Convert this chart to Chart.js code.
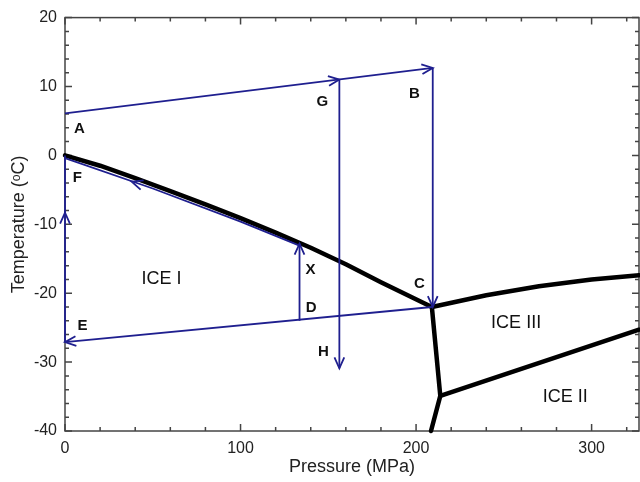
<!DOCTYPE html>
<html>
<head>
<meta charset="utf-8">
<script src="https://cdn.jsdelivr.net/npm/chart.js@4"></script>
<style>
  html, body { margin: 0; padding: 0; background: #fff; }
  #wrap { width: 640px; height: 482px; }
</style>
</head>
<body>
<div id="wrap"><canvas id="phaseChart"></canvas></div>
<script>
// axis ticks
const pressureTicks = [0, 100, 200, 300];
const tempTicks = [-40, -30, -20, -10, 0, 10, 20];

// phase boundaries (MPa, degC)
const meltIP = [0, 20, 40, 60, 80, 100, 120, 140, 160, 180, 209];
const meltIT = [0, -1.5, -3.3, -5.2, -7.1, -9.1, -11.2, -13.4, -15.8, -18.4, -22];
const meltIIIP = [209, 240, 270, 300, 327];
const meltIIIT = [-22, -20.3, -19, -18, -17.4];
const iceIvsIIIP = [209, 213.8, 208.5];
const iceIvsIIIT = [-22, -34.9, -40];
const iceIIvsIIIP = [213.8, 327];
const iceIIvsIIIT = [-34.9, -25.3];

// process paths
const pathABP = [0, 209.5], pathABT = [6.1, 12.7];
const pathBCP = [209.5, 209.5], pathBCT = [12.7, -22];
const pathGHP = [156.3, 156.3], pathGHT = [11.0, -30.9];
const pathCEP = [209, 0], pathCET = [-22, -27.1];
const pathDXP = [133.6, 133.6], pathDXT = [-24, -12.8];
const pathEFP = [0, 0], pathEFT = [-27.1, 0];
const pathXFP = [133.6, 100, 50, 0], pathXFT = [-13.1, -9.6, -4.8, -0.4];

// arrow heads: [tipP, tipT, fromP, fromT]
const arrowHeads = [
    [156.3, 11.0, 0, 6.1],
    [209.5, 12.7, 0, 6.1],
    [209.5, -22, 209.5, 12.7],
    [156.3, -30.9, 156.3, 11],
    [0, -27.1, 209, -22],
    [133.6, -12.8, 133.6, -24],
    [0, -8.3, 0, -27.1],
    [38, -3.8, 50, -4.8]
];

const pointLabels = ['A', 'G', 'B', 'F', 'X', 'D', 'C', 'E', 'H'];
const pointLabelP = [8.2, 146.6, 199, 7, 139.8, 140.2, 201.9, 9.9, 147.2];
const pointLabelT = [3.8, 7.8, 9.0, -3.3, -16.6, -22.1, -18.6, -24.8, -28.5];

const phaseLabels = ['ICE I', 'ICE III', 'ICE II'];
const phaseLabelP = [55, 257, 285];
const phaseLabelT = [-17.9, -24.4, -35];

const blue = '#1f1f8f';

function toXY(ps, ts) {
    return ps.map((p, i) => ({ x: p, y: ts[i] }));
}

function boundary(ps, ts) {
    return { data: toXY(ps, ts), showLine: true, borderColor: '#000', borderWidth: 4.5,
             pointRadius: 0, borderJoinStyle: 'round', borderCapStyle: 'round', clip: 6 };
}

function path(ps, ts) {
    return { data: toXY(ps, ts), showLine: true, borderColor: blue, borderWidth: 1.8,
             pointRadius: 0, clip: 6 };
}

const framePlugin = {
    id: 'frame',
    beforeDatasetsDraw(chart) {
        const ctx = chart.ctx;
        const a = chart.chartArea;
        const xs = chart.scales.x, ys = chart.scales.y;
        ctx.save();
        ctx.strokeStyle = '#444';
        ctx.lineWidth = 1.5;
        ctx.strokeRect(a.left, a.top, a.right - a.left, a.bottom - a.top);
        ctx.beginPath();
        for (let p = 0; p <= 327; p += 20) {
            const px = xs.getPixelForValue(p);
            const len = p % 100 === 0 ? 7 : 4;
            ctx.moveTo(px, a.bottom); ctx.lineTo(px, a.bottom - len);
            ctx.moveTo(px, a.top); ctx.lineTo(px, a.top + len);
        }
        for (let t = -40; t <= 20; t += 2) {
            const py = ys.getPixelForValue(t);
            const len = t % 10 === 0 ? 7 : 4;
            ctx.moveTo(a.left, py); ctx.lineTo(a.left + len, py);
            ctx.moveTo(a.right, py); ctx.lineTo(a.right - len, py);
        }
        ctx.stroke();
        ctx.restore();
    },
    afterDraw(chart) {
        const ctx = chart.ctx;
        const xs = chart.scales.x, ys = chart.scales.y;
        ctx.save();
        // arrow heads
        ctx.strokeStyle = blue;
        ctx.lineWidth = 1.8;
        arrowHeads.forEach(([tp, tt, fp, ft]) => {
            const x1 = xs.getPixelForValue(tp), y1 = ys.getPixelForValue(tt);
            const x0 = xs.getPixelForValue(fp), y0 = ys.getPixelForValue(ft);
            const ang = Math.atan2(y1 - y0, x1 - x0);
            const L = 12, w = 0.42;
            ctx.beginPath();
            ctx.moveTo(x1 - L * Math.cos(ang - w), y1 - L * Math.sin(ang - w));
            ctx.lineTo(x1, y1);
            ctx.lineTo(x1 - L * Math.cos(ang + w), y1 - L * Math.sin(ang + w));
            ctx.stroke();
        });

        // labels
        ctx.fillStyle = '#111';
        ctx.textAlign = 'center';
        ctx.textBaseline = 'middle';
        ctx.font = 'bold 15px "Liberation Sans", Arial, sans-serif';
        pointLabels.forEach((s, i) => {
            ctx.fillText(s, xs.getPixelForValue(pointLabelP[i]), ys.getPixelForValue(pointLabelT[i]));
        });
        ctx.font = '18px "Liberation Sans", Arial, sans-serif';
        phaseLabels.forEach((s, i) => {
            ctx.fillText(s, xs.getPixelForValue(phaseLabelP[i]), ys.getPixelForValue(phaseLabelT[i]));
        });
        ctx.restore();
    }
};

const tickFont = { family: '"Liberation Sans", Arial, sans-serif', size: 16 };
const titleFont = { family: '"Liberation Sans", Arial, sans-serif', size: 18 };

new Chart(document.getElementById('phaseChart'), {
    type: 'scatter',
    data: {
        datasets: [
            path(pathXFP, pathXFT),
            path(pathABP, pathABT),
            path(pathBCP, pathBCT),
            path(pathGHP, pathGHT),
            path(pathCEP, pathCET),
            path(pathDXP, pathDXT),
            path(pathEFP, pathEFT),
            boundary(meltIP, meltIT),
            boundary(meltIIIP, meltIIIT),
            boundary(iceIvsIIIP, iceIvsIIIT),
            boundary(iceIIvsIIIP, iceIIvsIIIT)
        ]
    },
    options: {
        responsive: true,
        maintainAspectRatio: false,
        animation: false,
        layout: { padding: { top: 16, right: 1, left: 0, bottom: 0 } },
        plugins: { legend: { display: false }, tooltip: { enabled: false } },
        scales: {
            x: {
                type: 'linear', min: 0, max: 327,
                afterBuildTicks: (s) => { s.ticks = pressureTicks.map(v => ({ value: v })); },
                afterFit: (s) => { s.height = 51; },
                grid: { display: false, drawTicks: false },
                border: { display: false },
                ticks: { color: '#222', font: tickFont, padding: 8, maxRotation: 0 },
                title: { display: true, text: 'Pressure (MPa)', color: '#222', font: titleFont, padding: { top: 0, bottom: 4 } }
            },
            y: {
                type: 'linear', min: -40, max: 20,
                afterBuildTicks: (s) => { s.ticks = tempTicks.map(v => ({ value: v })); },
                afterFit: (s) => { s.width = 65; },
                grid: { display: false, drawTicks: false },
                border: { display: false },
                ticks: { color: '#222', font: tickFont, padding: 8 },
                title: { display: true, text: 'Temperature (ᵒC)', color: '#222', font: titleFont, padding: { top: 8, bottom: 0 } }
            }
        }
    },
    plugins: [framePlugin]
});
</script>
</body>
</html>
